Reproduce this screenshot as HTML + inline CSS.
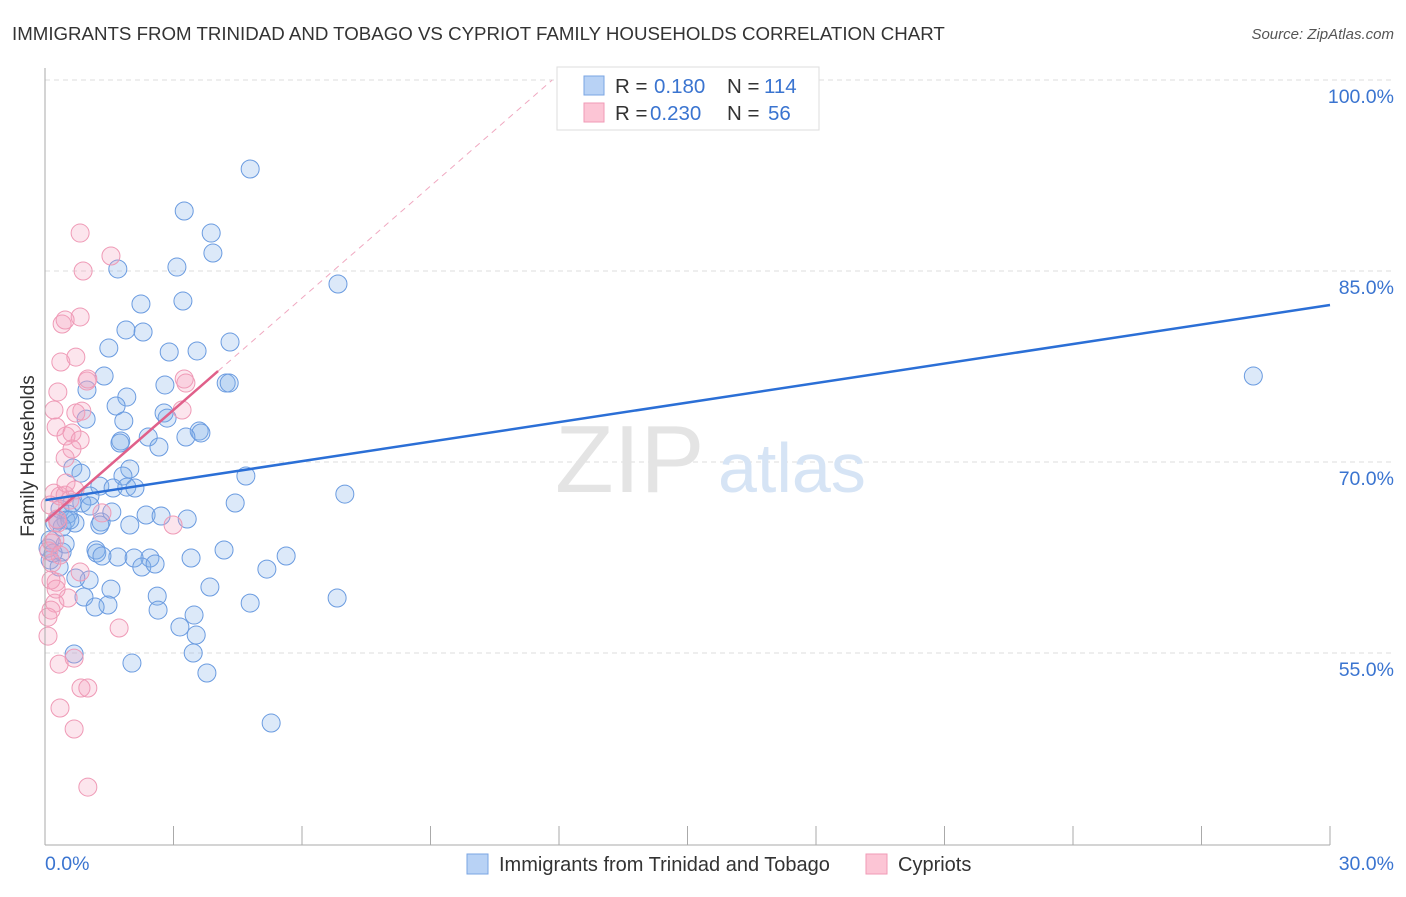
<!DOCTYPE html>
<html><head><meta charset="utf-8"><style>
body{margin:0;background:#fff;font-family:"Liberation Sans",sans-serif}
svg text{font-family:"Liberation Sans",sans-serif}
</style></head><body>
<svg id="chart" width="1406" height="892" xmlns="http://www.w3.org/2000/svg">
<text x="12" y="40" font-size="18.7" fill="#333">IMMIGRANTS FROM TRINIDAD AND TOBAGO VS CYPRIOT FAMILY HOUSEHOLDS CORRELATION CHART</text>
<text x="1394" y="39" font-size="15" fill="#555" text-anchor="end" font-style="italic">Source: ZipAtlas.com</text>
<g id="grid"></g>
<text x="555" y="492" font-size="96" fill="#e4e4e4" font-family="Liberation Serif">ZIP</text>
<text x="718" y="492" font-size="70" fill="#d6e4f5">atlas</text>
<g id="marks"></g>
<line x1="45" y1="845" x2="1330" y2="845" stroke="#aaa"/>
<line x1="45" y1="68" x2="45" y2="845" stroke="#aaa"/>
<g id="axes"></g>
<text transform="translate(34,456) rotate(-90)" font-size="19" fill="#333" text-anchor="middle">Family Households</text>
<g>
<rect x="557" y="67" width="262" height="63" fill="#fff" stroke="#ddd"/>
<rect x="584" y="76" width="20" height="19" fill="#b8d2f5" stroke="#7aa5e3"/>
<rect x="584" y="103" width="20" height="19" fill="#fcc5d5" stroke="#f09ab6"/>
<text x="615" y="93" font-size="20.5" fill="#333">R = </text><text x="654" y="93" font-size="20.5" fill="#3a74d0">0.180</text>
<text x="727" y="93" font-size="20.5" fill="#333">N = </text><text x="764" y="93" font-size="20.5" fill="#3a74d0">114</text>
<text x="615" y="120" font-size="20.5" fill="#333">R = </text><text x="650" y="120" font-size="20.5" fill="#3a74d0">0.230</text>
<text x="727" y="120" font-size="20.5" fill="#333">N = </text><text x="768" y="120" font-size="20.5" fill="#3a74d0">56</text>
</g>
<g>
<rect x="467" y="854" width="21" height="20" fill="#b8d2f5" stroke="#7aa5e3"/>
<text x="499" y="871" font-size="20" fill="#333">Immigrants from Trinidad and Tobago</text>
<rect x="866" y="854" width="21" height="20" fill="#fcc5d5" stroke="#f09ab6"/>
<text x="898" y="871" font-size="20" fill="#333">Cypriots</text>
</g>
</svg>
<script>
const blueX=[4.79,3.25,3.88,3.92,1.70,3.08,6.84,2.24,3.22,1.89,2.29,1.49,2.90,3.55,4.32,1.38,2.80,4.23,4.30,1.91,0.98,1.66,2.78,2.85,0.96,1.84,3.60,3.64,3.29,2.41,1.77,1.75,2.66,0.65,0.84,1.98,1.82,4.69,1.28,1.59,1.91,2.10,1.05,7.00,4.44,0.86,0.63,0.35,1.05,0.54,0.49,2.36,2.71,3.32,1.31,1.56,0.23,0.70,0.40,1.28,1.98,0.07,0.40,1.19,1.21,1.70,2.45,3.41,4.18,5.63,0.47,0.12,0.33,1.33,2.08,5.18,2.26,2.57,1.03,0.72,1.54,3.85,0.91,1.47,2.62,4.79,6.82,1.17,2.64,3.48,3.15,3.53,0.68,3.46,2.03,3.78,5.28,28.21,0.12,0.19,0.30,0.58];
const blueY=[93.01,89.71,87.98,86.41,85.16,85.31,83.98,82.41,82.64,80.37,80.21,78.95,78.64,78.72,79.42,76.75,76.05,76.20,76.20,75.10,75.65,74.40,73.85,73.45,73.37,73.22,72.43,72.28,71.96,71.96,71.65,71.49,71.18,69.53,69.13,69.45,68.90,68.90,68.11,67.96,68.03,67.96,67.33,67.48,66.78,66.78,66.78,66.31,66.54,65.91,65.44,65.84,65.76,65.52,65.29,66.07,65.21,65.21,64.89,65.05,65.05,63.24,62.93,63.09,62.85,62.54,62.46,62.46,63.09,62.62,63.56,62.30,61.75,62.62,62.46,61.59,61.75,61.99,60.73,60.89,60.02,60.18,59.40,58.77,59.47,58.92,59.32,58.61,58.37,57.98,57.04,56.41,54.92,55.00,54.21,53.43,49.50,76.75,63.87,62.85,65.44,65.44];
const pinkX=[0.82,1.54,0.89,0.82,0.40,0.47,0.37,0.72,0.98,1.00,3.25,3.29,0.30,0.21,0.72,0.86,3.20,0.26,0.49,0.63,0.82,0.63,0.47,0.21,0.35,0.47,0.28,0.49,0.12,0.30,0.23,0.09,0.16,0.26,0.14,0.82,1.33,2.99,0.23,0.14,0.07,0.54,1.73,0.07,0.33,0.68,0.84,1.00,0.35,0.68,1.00,0.26,0.16,0.58,0.70,0.35];
const pinkY=[87.98,86.18,85.00,81.39,80.84,81.15,77.85,78.24,76.36,76.52,76.52,76.20,75.50,74.08,73.85,74.00,74.08,72.75,72.04,72.28,71.73,71.02,70.31,67.56,67.33,67.40,65.52,68.35,66.62,65.21,63.87,63.01,62.07,60.57,60.73,61.36,66.00,65.05,58.92,58.37,57.82,59.32,56.96,56.33,54.13,54.60,52.25,52.25,50.68,49.03,44.47,60.02,63.64,67.01,67.80,62.69];
const blueLine=[67.0,82.33];
const pinkLine=[65.3,2.93];
const yTicks=[100,85,70,55];
const yTickLabels=["100.0%","85.0%","70.0%","55.0%"];
const xTicks=[0,3,6,9,12,15,18,21,24,27,30];
const NS="http://www.w3.org/2000/svg";
const sx=v=>45+v*(1285/30);
const sy=v=>80+(100-v)*(191/15);
function mk(tag,attrs,parent){const e=document.createElementNS(NS,tag);for(const k in attrs)e.setAttribute(k,attrs[k]);parent.appendChild(e);return e;}
const grid=document.getElementById('grid'),marks=document.getElementById('marks'),axes=document.getElementById('axes');
yTicks.forEach((t,i)=>{
 const l=mk('line',{x1:45,x2:1394,y1:sy(t),y2:sy(t),stroke:'#ddd','stroke-dasharray':'5,4'},grid);
 
 
 const tx=mk('text',{x:1394,y:sy(t)+23,'font-size':19.5,fill:'#3a74d0','text-anchor':'end'},axes);
 tx.textContent=yTickLabels[i];
 
 
});
xTicks.forEach(t=>{
 const l=mk('line',{x1:sx(t),x2:sx(t),y1:826,y2:845,stroke:'#aaa'},axes);
 
 
});
const xl0=mk('text',{x:45,y:870,'font-size':19.5,fill:'#3a74d0'},axes);xl0.textContent='0.0%';


const xl1=mk('text',{x:1394,y:870,'font-size':19.5,fill:'#3a74d0','text-anchor':'end'},axes);xl1.textContent='30.0%';


blueX.forEach((x,i)=>{
 const c=mk('circle',{cx:sx(x),cy:sy(blueY[i]),r:9,fill:'rgba(130,175,235,0.28)',stroke:'#6a9be0','stroke-width':1},marks);
 
 
});
pinkX.forEach((x,i)=>{
 const c=mk('circle',{cx:sx(x),cy:sy(pinkY[i]),r:9,fill:'rgba(245,160,190,0.28)',stroke:'#ef9ab6','stroke-width':1},marks);
 
 
});
const pEnd=(100-pinkLine[0])/pinkLine[1];
const pd=mk('line',{x1:sx(4.04),y1:sy(pinkLine[0]+pinkLine[1]*4.04),x2:sx(pEnd),y2:sy(100),stroke:'#f0a8c0','stroke-dasharray':'6,5','stroke-width':1},marks);


const pl=mk('line',{x1:sx(0),y1:sy(pinkLine[0]),x2:sx(4.04),y2:sy(pinkLine[0]+pinkLine[1]*4.04),stroke:'#e0608a','stroke-width':2.5},marks);


const bl=mk('line',{x1:sx(0),y1:sy(blueLine[0]),x2:sx(30),y2:sy(blueLine[1]),stroke:'#2b6fd6','stroke-width':2.5},marks);


</script>
</body></html>
